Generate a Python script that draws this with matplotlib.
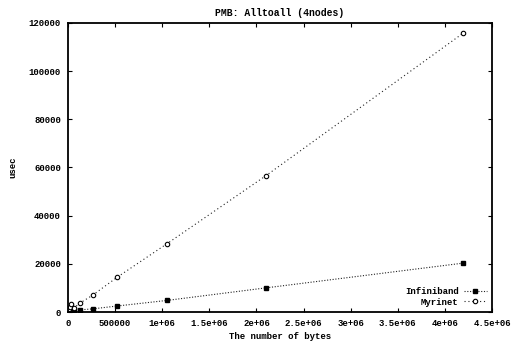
import matplotlib
matplotlib.use("Agg")
import matplotlib.pyplot as plt
from matplotlib.ticker import FixedLocator

title = "PMB: Alltoall (4nodes)"
xlabel = "The number of bytes"
ylabel = "usec"

sizes = [1, 2, 4, 8, 16, 32, 64, 128, 256, 512, 1024, 2048, 4096, 8192,
         16384, 32768, 65536, 131072, 262144, 524288, 1048576, 2097152, 4194304]
infiniband = [12, 12, 12, 13, 13, 14, 15, 17, 20, 25, 35, 55, 80, 130,
              220, 400, 720, 900, 1300, 2500, 4800, 10000, 20300]
myrinet = [40, 40, 41, 42, 44, 48, 55, 70, 95, 140, 230, 400, 700, 1200,
           2000, 3200, 1800, 3800, 7000, 14500, 28300, 56500, 115800]

xticks = [0, 500000, 1000000, 1500000, 2000000, 2500000, 3000000, 3500000, 4000000, 4500000]
xticklabels = ["0", "500000", "1e+06", "1.5e+06", "2e+06", "2.5e+06", "3e+06", "3.5e+06", "4e+06", "4.5e+06"]
yticks = [0, 20000, 40000, 60000, 80000, 100000, 120000]
yticklabels = ["0", "20000", "40000", "60000", "80000", "100000", "120000"]

plt.rcParams['font.family'] = ['Liberation Mono', 'DejaVu Sans Mono']
plt.rcParams['font.size'] = 6.5
plt.rcParams['font.weight'] = 'bold'

fig = plt.figure(figsize=(5.13, 3.42), dpi=100)
ax = fig.add_axes([68/513, 1 - 312/342, (492 - 68)/513, (312 - 23)/342])

ax.plot(sizes, infiniband, color='#222222', linestyle=(0, (1, 1.5)), linewidth=0.8,
        marker='s', markersize=2.2, markerfacecolor='black', markeredgecolor='black',
        label='Infiniband')
ax.plot(sizes, myrinet, color='#222222', linestyle=(0, (1, 2.5)), linewidth=0.8,
        marker='o', markersize=3.2, markerfacecolor='white', markeredgecolor='black',
        markeredgewidth=0.8, label='Myrinet')

ax.set_xlim(0, 4500000)
ax.set_ylim(0, 120000)
ax.xaxis.set_major_locator(FixedLocator(xticks))
ax.set_xticklabels(xticklabels)
ax.yaxis.set_major_locator(FixedLocator(yticks))
ax.set_yticklabels(yticklabels)
ax.tick_params(direction='in', top=True, right=True, length=3, width=0.8, pad=5, labelsize=6.5)
for s in ax.spines.values():
    s.set_linewidth(1.3)

ax.set_title(title, fontsize=7, pad=5, fontweight='bold')
ax.set_xlabel(xlabel, fontsize=6.5, labelpad=3, fontweight='bold')
ax.set_ylabel(ylabel, fontsize=6.5, labelpad=8, fontweight='bold')

leg = ax.legend(loc='lower right', frameon=False, markerfirst=False, fontsize=6.5,
                handlelength=2.5, borderaxespad=0.2, labelspacing=0.2, handletextpad=0.6)

fig.savefig("out.png", dpi=100)
